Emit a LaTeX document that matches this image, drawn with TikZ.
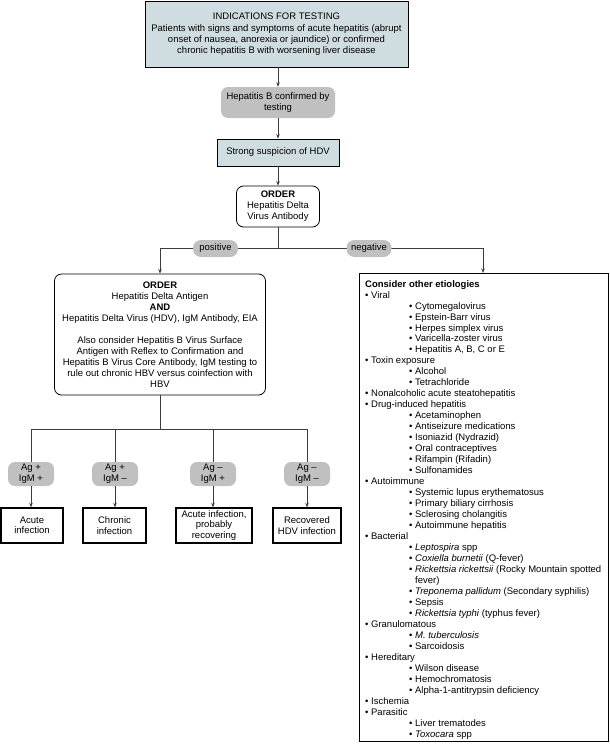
\documentclass[tikz,border=0pt]{standalone}
\usepackage{fontspec}
\setmainfont{Liberation Sans}
\usetikzlibrary{arrows.meta}
\definecolor{bluegray}{RGB}{208,221,224}
\definecolor{lblgray}{RGB}{192,192,192}
\definecolor{lncol}{RGB}{60,60,60}
\newcommand{\sbul}{\hspace*{44pt}\textbullet\ }
\newcommand{\tbul}{\textbullet\ }
\begin{document}
\begin{tikzpicture}[x=1pt,y=-1pt,
  font=\fontsize{9.5}{11}\selectfont,
  every node/.style={inner sep=0pt, align=center},
  box/.style={draw, line width=0.8pt, fill=bluegray},
  rbox/.style={draw, line width=0.8pt, rounded corners=7pt, fill=white},
  gbox/.style={fill=lblgray, rounded corners=7pt},
  lbl/.style={gbox, minimum width=46pt, minimum height=24pt},
  tag/.style={gbox, rounded corners=8pt, minimum width=45pt, minimum height=17pt},
  res/.style={draw, line width=1.4pt, minimum height=35pt, font=\fontsize{9.5}{10.5}\selectfont},
  arr/.style={draw=lncol, -{Stealth[length=4.5pt,width=3.5pt]}, line width=0.7pt},
  ln/.style={draw=lncol, line width=0.7pt}]
\useasboundingbox (0,0) rectangle (610,750);

% top chain
\node[box, minimum width=263pt, minimum height=66pt] (top) at (276.5,34)
  {INDICATIONS FOR TESTING\\[1.5pt]
   Patients with signs and symptoms of acute hepatitis (abrupt\\
   onset of nausea, anorexia or jaundice) or confirmed\\
   chronic hepatitis B with worsening liver disease};
\node[gbox, minimum width=114pt, minimum height=31pt] (hepb) at (278,102.5)
  {Hepatitis B confirmed by\\testing};
\node[box, minimum width=122pt, minimum height=27pt] (susp) at (278,152.5)
  {Strong suspicion of HDV};
\node[rbox, minimum width=83pt, minimum height=41pt] (order) at (278,206.5)
  {\textbf{ORDER}\\Hepatitis Delta\\Virus Antibody};

\draw[arr] (top.south -| hepb) -- (hepb.north);
\draw[arr] (hepb.south) -- (susp.north);
\draw[arr] (susp.south) -- (order.north);

% split
\coordinate (j) at (278,248);
\coordinate (pl) at (160,248);
\coordinate (nr) at (483,248);
\draw[ln] (order.south) -- (j);
\draw[ln] (pl) -- (nr);
\node[tag] (pos) at (215.5,248.5) {positive};
\node[tag] (neg) at (369,248.5) {negative};

% left order box
\node[rbox, minimum width=211pt, minimum height=121pt] (ord2) at (160,334.5)
  {\textbf{ORDER}\\
   Hepatitis Delta Antigen\\
   \textbf{AND}\\
   Hepatitis Delta Virus (HDV), IgM Antibody, EIA\\[11pt]
   Also consider Hepatitis B Virus Surface\\
   Antigen with Reflex to Confirmation and\\
   Hepatitis B Virus Core Antibody, IgM testing to\\
   rule out chronic HBV versus coinfection with\\
   HBV};
\draw[arr] (pl) -- (pl |- ord2.north);

% right box
\node[draw, line width=0.9pt, minimum width=249pt, minimum height=468pt, anchor=north west] (other) at (359,273) {};
\draw[arr] (nr) -- (nr |- other.north);
\node[anchor=north west, align=left, font=\fontsize{9.5}{10.98}\selectfont] (list) at (365,280) {%
\textbf{Consider other etiologies}\\
\tbul Viral\\
\sbul Cytomegalovirus\\
\sbul Epstein-Barr virus\\
\sbul Herpes simplex virus\\
\sbul Varicella-zoster virus\\
\sbul Hepatitis A, B, C or E\\
\tbul Toxin exposure\\
\sbul Alcohol\\
\sbul Tetrachloride\\
\tbul Nonalcoholic acute steatohepatitis\\
\tbul Drug-induced hepatitis\\
\sbul Acetaminophen\\
\sbul Antiseizure medications\\
\sbul Isoniazid (Nydrazid)\\
\sbul Oral contraceptives\\
\sbul Rifampin (Rifadin)\\
\sbul Sulfonamides\\
\tbul Autoimmune\\
\sbul Systemic lupus erythematosus\\
\sbul Primary biliary cirrhosis\\
\sbul Sclerosing cholangitis\\
\sbul Autoimmune hepatitis\\
\tbul Bacterial\\
\sbul \textit{Leptospira} spp\\
\sbul \textit{Coxiella burnetii} (Q-fever)\\
\sbul \textit{Rickettsia rickettsii} (Rocky Mountain spotted\\
\hspace*{44pt}\phantom{\textbullet\ }fever)\\
\sbul \textit{Treponema pallidum} (Secondary syphilis)\\
\sbul Sepsis\\
\sbul \textit{Rickettsia typhi} (typhus fever)\\
\tbul Granulomatous\\
\sbul \textit{M. tuberculosis}\\
\sbul Sarcoidosis\\
\tbul Hereditary\\
\sbul Wilson disease\\
\sbul Hemochromatosis\\
\sbul Alpha-1-antitrypsin deficiency\\
\tbul Ischemia\\
\tbul Parasitic\\
\sbul Liver trematodes\\
\sbul \textit{Toxocara} spp};

% bottom branches
\coordinate (k) at (160,429);
\coordinate (b1) at (31,429);
\coordinate (b2) at (115,429);
\coordinate (b3) at (213,429);
\coordinate (b4) at (307,429);
\draw[ln] (ord2.south) -- (k);
\draw[ln] (b1) -- (b4);

\node[lbl] (l1) at (31,474) {Ag +\\IgM +};
\node[lbl] (l2) at (115,474) {Ag +\\IgM –};
\node[lbl] (l3) at (213,474) {Ag –\\IgM +};
\node[lbl] (l4) at (307,474) {Ag –\\IgM –};
\foreach \i in {1,2,3,4} {\draw[ln] (b\i) -- (l\i.north);}

\node[res, minimum width=62pt] (r1) at (32,525.5) {Acute\\infection};
\node[res, minimum width=63pt] (r2) at (114.5,525.5) {Chronic\\infection};
\node[res, minimum width=76pt] (r3) at (214,525.5) {Acute infection,\\probably\\recovering};
\node[res, minimum width=68pt] (r4) at (307,525.5) {Recovered\\HDV infection};
\foreach \i in {1,2,3,4} {\draw[arr] (l\i.south) -- (l\i.south |- r\i.north);}
\end{tikzpicture}
\end{document}
